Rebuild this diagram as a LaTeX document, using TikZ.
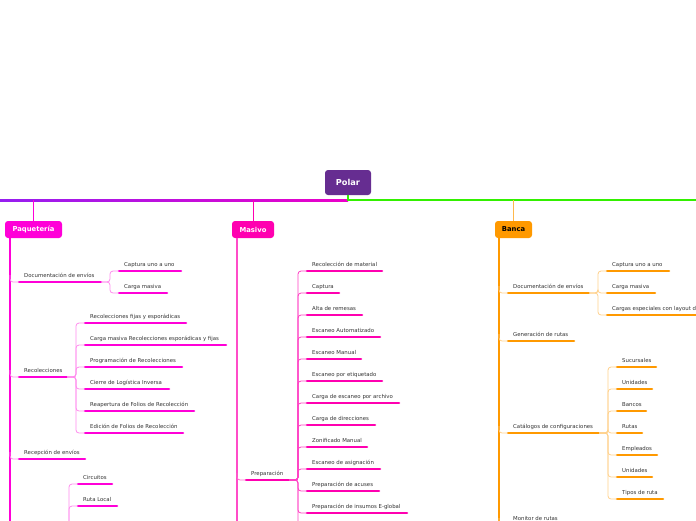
\documentclass[tikz,border=0pt]{standalone}
\usepackage{fontspec}
\setmainfont{DejaVu Sans}
\usetikzlibrary{calc}
\definecolor{polarc}{HTML}{662D91}
\definecolor{paqc}{HTML}{FF00D8}
\definecolor{masc}{HTML}{FF00B0}
\definecolor{bancac}{HTML}{FF9900}
\definecolor{greenc}{HTML}{33F000}
\definecolor{lblc}{HTML}{333333}
\tikzset{
  lbl/.style={font=\fontsize{5.4}{6}\selectfont, text=lblc, inner sep=0pt, anchor=base west},
  bar/.style={line width=2.6pt, line cap=round, draw=#1},
  conn/.style={line width=0.8pt, draw=#1, rounded corners=3pt},
  trunk/.style={line width=1.5pt, draw=#1, rounded corners=3pt},
  title/.style={rounded corners=3pt, fill=#1, inner sep=0pt, minimum height=17pt,
    font=\bfseries\fontsize{6.8}{8}\selectfont, text=white},
}
\newcommand\mmleaf[6]{%
  \coordinate (#1-l) at (#2,#4);
  \coordinate (#1-r) at (#3,#4);
  \draw[bar=#5] (#1-l) -- (#1-r);
  \node[lbl] (#1) at (#2+5,#4-5) {#6};
}
\newcommand\mmbranch[3]{%
  \draw[conn=#1] (#2-r) -- ++(9,0) |- (#3-l);
}
\begin{document}
\begin{tikzpicture}[x=1pt,y=-1pt]
\useasboundingbox (0,0) rectangle (696,520);
\clip (0,0) rectangle (696,520);

% root
\node[title=polarc, minimum width=46pt, minimum height=25pt, font=\bfseries\fontsize{8.2}{9}\selectfont] (polar) at (348,182.5) {Polar};
\coordinate (topL) at (0,200);
\coordinate (topM) at (348,200);
\coordinate (topR) at (696,200);
\shade[left color={rgb,255:red,150;green,30;blue,240}, right color={rgb,255:red,235;green,0;blue,200}] (0,199) rectangle (348,201);
\draw[line width=2pt, draw=greenc] (polar.south) -- (topM) -- (topR);

% main topics
\node[title=paqc, minimum width=57pt] (paq) at (33.5,229.5) {Paquetería};
\node[title=masc, minimum width=42pt] (mas) at (253,229.5) {Masivo};
\node[title=bancac, minimum width=37pt, text=black] (banca) at (513.5,229.5) {Banca};
\draw[line width=0.8pt, draw=paqc] (paq.north |- topM) -- (paq.north);
\draw[line width=0.8pt, draw=masc] (mas.north |- topM) -- (mas.north);
\draw[line width=0.8pt, draw=bancac!70] (banca.north |- topM) -- (banca.north);

\coordinate (paqT) at (10,238);
\coordinate (paqB) at (10,540);
\coordinate (masT) at (237,238);
\coordinate (masB) at (237,540);
\coordinate (banT) at (499,238);
\coordinate (banB) at (499,540);
\draw[trunk=paqc] (paqT) -- (paqB);
\draw[trunk=masc!70] (masT) -- (masB);
\draw[trunk=bancac] (banT) -- (banB);

% ---------------- Paqueteria
\mmleaf{doc}{19}{101}{282}{paqc}{Documentación de envíos}
\mmleaf{cap1}{119}{181}{271}{paqc}{Captura uno a uno}
\mmleaf{cm1}{119}{167}{293}{paqc}{Carga masiva}
\mmleaf{rec}{19}{67}{377}{paqc}{Recolecciones}
\mmleaf{ra}{85}{186}{323}{paqc}{Recolecciones fijas y esporádicas}
\mmleaf{rb}{85}{226}{345}{paqc}{Carga masiva Recolecciones esporádicas y fijas}
\mmleaf{rc}{85}{182}{367}{paqc}{Programación de Recolecciones}
\mmleaf{rd}{85}{169}{389}{paqc}{Cierre de Logística Inversa}
\mmleaf{re}{85}{194}{411}{paqc}{Reapertura de Folios de Recolección}
\mmleaf{rf}{85}{183}{433}{paqc}{Edición de Folios de Recolección}
\mmleaf{recep}{19}{85}{459}{paqc}{Recepción de envíos}
\mmleaf{circ}{78}{112}{484}{paqc}{Circuitos}
\mmleaf{rloc}{78}{117}{506}{paqc}{Ruta Local}
\coordinate (rut-r) at (60,530);
\coordinate (rutx-l) at (78,550);

\foreach \n in {doc,rec,recep}{\draw[conn=paqc!45] ($(paqT |- \n-l)+(0,-7)$) |- (\n-l);}
\foreach \n in {cap1,cm1}{\mmbranch{paqc!45}{doc}{\n}}
\foreach \n in {ra,rb,rc,rd,re,rf}{\mmbranch{paqc!45}{rec}{\n}}
\foreach \n in {circ,rloc,rutx}{\mmbranch{paqc!45}{rut}{\n}}

% ---------------- Masivo
\mmleaf{prep}{246}{289}{480}{masc}{Preparación}
\mmleaf{m1}{307}{382}{271}{masc}{Recolección de material}
\mmleaf{m2}{307}{339}{293}{masc}{Captura}
\mmleaf{m3}{307}{362}{315}{masc}{Alta de remesas}
\mmleaf{m4}{307}{380}{337}{masc}{Escaneo Automatizado}
\mmleaf{m5}{307}{361}{359}{masc}{Escaneo Manual}
\mmleaf{m6}{307}{382}{381}{masc}{Escaneo por etiquetado}
\mmleaf{m7}{307}{399}{403}{masc}{Carga de escaneo por archivo}
\mmleaf{m8}{307}{375}{425}{masc}{Carga de direcciones}
\mmleaf{m9}{307}{367}{447}{masc}{Zonificado Manual}
\mmleaf{m10}{307}{380}{469}{masc}{Escaneo de asignación}
\mmleaf{m11}{307}{379}{491}{masc}{Preparación de acuses}
\mmleaf{m12}{307}{407}{513}{masc}{Preparación de insumos E-global}
\coordinate (m13-l) at (307,545);
\draw[conn=masc!60] ($(masT |- prep-l)+(0,-7)$) |- (prep-l);
\foreach \n in {m1,m2,m3,m4,m5,m6,m7,m8,m9,m10,m11,m12,m13}{\mmbranch{masc!75}{prep}{\n}}

% ---------------- Banca
\mmleaf{bdoc}{508}{589}{293}{bancac}{Documentación de envíos}
\mmleaf{b1}{607}{669}{271}{bancac}{Captura uno a uno}
\mmleaf{b2}{607}{655}{293}{bancac}{Carga masiva}
\mmleaf{b3}{607}{705}{315}{bancac}{Cargas especiales con layout de envíos}
\mmleaf{gen}{508}{574}{341}{bancac}{Generación de rutas}
\mmleaf{cat}{508}{599}{433}{bancac}{Catálogos de configuraciones}
\mmleaf{c1}{617}{656}{367}{bancac}{Sucursales}
\mmleaf{c2}{617}{652}{389}{bancac}{Unidades}
\mmleaf{c3}{617}{646}{411}{bancac}{Bancos}
\mmleaf{c4}{617}{642}{433}{bancac}{Rutas}
\mmleaf{c5}{617}{657}{455}{bancac}{Empleados}
\mmleaf{c6}{617}{652}{477}{bancac}{Unidades}
\mmleaf{c7}{617}{663}{499}{bancac}{Tipos de ruta}
\mmleaf{mon}{508}{570}{525}{bancac}{Monitor de rutas}
\foreach \n in {bdoc,gen,cat,mon}{\draw[conn=bancac!45] ($(banT |- \n-l)+(0,-7)$) |- (\n-l);}
\foreach \n in {b1,b2,b3}{\mmbranch{bancac!45}{bdoc}{\n}}
\foreach \n in {c1,c2,c3,c4,c5,c6,c7}{\mmbranch{bancac!45}{cat}{\n}}
\end{tikzpicture}
\end{document}
